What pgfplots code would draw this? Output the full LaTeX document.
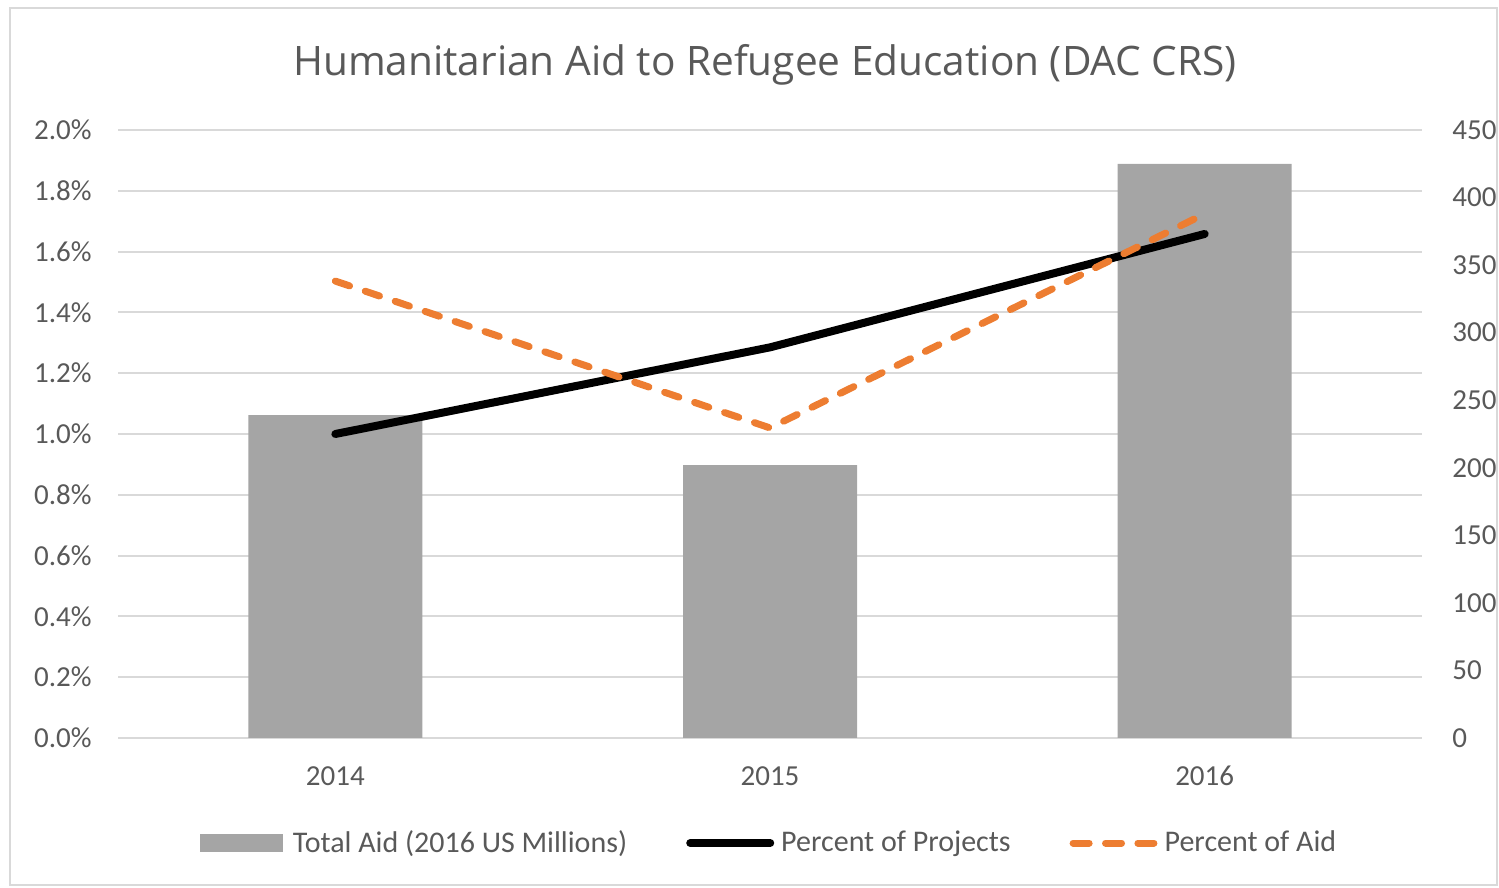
\documentclass[border=0pt]{standalone}
\usepackage{pgfplots}
\pgfplotsset{compat=1.18}
\usepackage{fontspec}
\setmainfont{Carlito}
\newfontfamily\titlefont{Open Sans}
\definecolor{barcol}{HTML}{A5A5A5}
\definecolor{orangecol}{HTML}{ED7D31}
\definecolor{txt}{HTML}{595959}
\definecolor{gridc}{HTML}{D9D9D9}
\begin{document}
\begin{tikzpicture}[x=1pt,y=1pt]
\path[use as bounding box] (0,0) rectangle (749.5,444);
\draw[gridc, line width=0.8pt] (5,1.5) rectangle (748.5,440);
% Axis A: left percent axis with grid and x labels
\begin{axis}[
  at={(59pt,75pt)}, anchor=south west, scale only axis,
  width=652pt, height=304pt,
  xmin=-0.5, xmax=2.5, ymin=0, ymax=2,
  axis line style={draw=none},
  major tick length=0pt,
  xtick={0,1,2}, xticklabels={2014,2015,2016},
  ytick={0,0.2,0.4,0.6,0.8,1.0,1.2,1.4,1.6,1.8,2.0},
  yticklabels={0.0\%,0.2\%,0.4\%,0.6\%,0.8\%,1.0\%,1.2\%,1.4\%,1.6\%,1.8\%,2.0\%},
  ymajorgrids, grid style={gridc, line width=1pt},
  tick label style={font=\fontsize{14.5}{17}\selectfont, text=txt},
  xticklabel style={anchor=center, yshift=-19pt, inner sep=0pt},
  yticklabel style={anchor=east, inner sep=0pt, xshift=-13pt},
]
\addplot[draw=none] coordinates {(0,0)};
\end{axis}
% Axis B: right axis with bars
\begin{axis}[
  at={(59pt,75pt)}, anchor=south west, scale only axis,
  width=652pt, height=304pt,
  xmin=-0.5, xmax=2.5, ymin=0, ymax=450,
  axis line style={draw=none},
  major tick length=0pt,
  xtick=\empty,
  yticklabel pos=right,
  ytick={0,50,100,150,200,250,300,350,400,450},
  yticklabels={0,50,100,150,200,250,300,350,400,450},
  tick label style={font=\fontsize{14.5}{17}\selectfont, text=txt},
  yticklabel style={anchor=west, inner sep=0pt, xshift=15pt},
]
\addplot[ybar, bar width=87pt, fill=barcol, draw=none] coordinates {(0,239) (1,202) (2,425)};
\end{axis}
% Axis C: lines and legend
\begin{axis}[
  at={(59pt,75pt)}, anchor=south west, scale only axis,
  width=652pt, height=304pt,
  xmin=-0.5, xmax=2.5, ymin=0, ymax=2,
  hide axis,
  legend columns=3,
  legend style={draw=none, fill=none, at={(0.5,-0.1727)}, anchor=center,
    font=\fontsize{15}{18}\selectfont, text=txt,
    /tikz/every even column/.append style={column sep=27.5pt}},
  legend cell align=left,
]
\addlegendimage{legend image code/.code={\fill[barcol, draw=none] (0pt,-4.5pt) rectangle (41.5pt,4.5pt); \path[draw=none, fill=none] (0,0) -- (44.5pt,0);}}
\addlegendentry{Total Aid (2016 US Millions)}
\addplot[black, line width=4pt, line cap=round,
  legend image code/.code={\draw[black, line width=4pt, line cap=round] (2pt,0) -- (42pt,0); \path[draw=none, fill=none] (0,0) -- (45.5pt,0);}]
  coordinates {(0,1.00) (1,1.285) (2,1.658)};
\addlegendentry{Percent of Projects}
\addplot[orangecol, line width=3.5pt, line cap=round, dash pattern=on 7.5pt off 8.3pt,
  legend image code/.code={\draw[orangecol, line width=3.5pt, line cap=round, dash pattern=on 8pt off 8.2pt] (1.75pt,0) -- (42.5pt,0); \path[draw=none, fill=none] (0,0) -- (45.5pt,0);}]
  coordinates {(0,1.503) (1,1.02) (2,1.724)};
\addlegendentry{Percent of Aid}
\end{axis}
\node[text=txt, font=\titlefont\fontsize{20.3}{24}\selectfont] at (382.5,411.5) {Humanitarian Aid to Refugee Education (DAC CRS)};
\end{tikzpicture}
\end{document}
